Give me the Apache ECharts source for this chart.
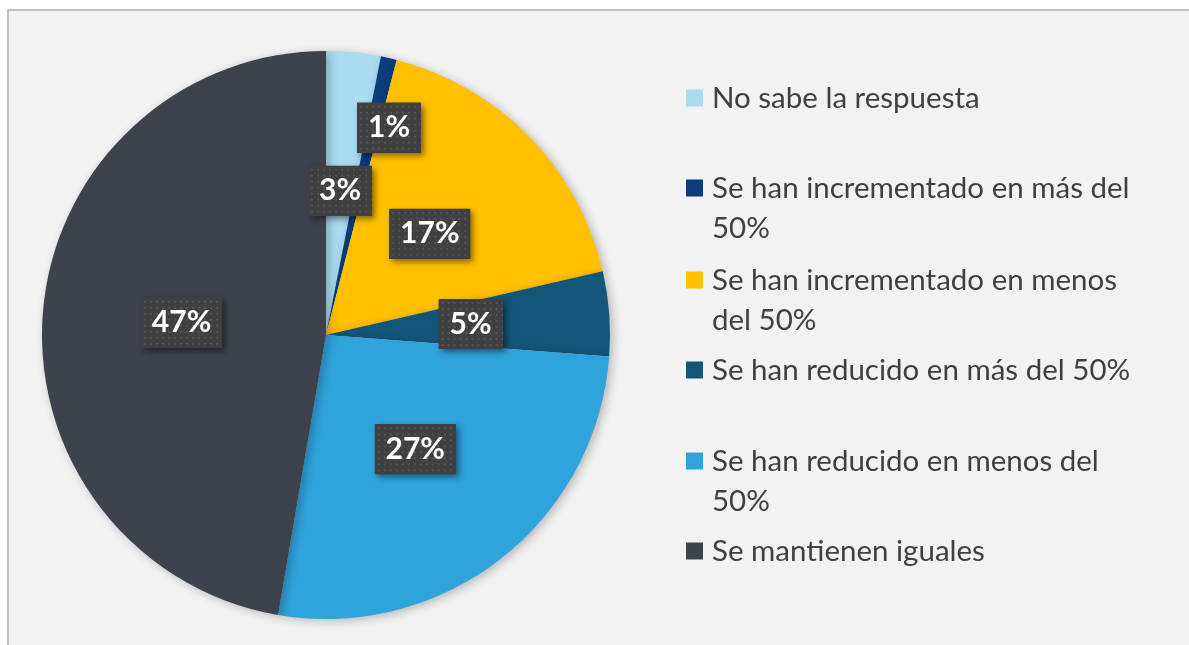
<!DOCTYPE html>
<html>
<head>
<meta charset="utf-8">
<script src="https://cdn.jsdelivr.net/npm/echarts@6/dist/echarts.min.js"></script>
<style>
html,body{margin:0;padding:0;background:#ffffff;}
#chart{width:1189px;height:645px;}
</style>
</head>
<body>
<div id="chart"></div>
<script>
const categories = [
  'No sabe la respuesta',
  'Se han incrementado en más del 50%',
  'Se han incrementado en menos del 50%',
  'Se han reducido en más del 50%',
  'Se han reducido en menos del 50%',
  'Se mantienen iguales'
];
const legendLines = [
  'No sabe la respuesta',
  'Se han incrementado en más del\n50%',
  'Se han incrementado en menos\ndel 50%',
  'Se han reducido en más del 50%',
  'Se han reducido en menos del\n50%',
  'Se mantienen iguales'
];
const values = [3.1, 0.9, 17.4, 4.8, 26.5, 47.3];
const colors = ['#a9dbf1', '#0b3d7a', '#ffc000', '#145679', '#2fa3dc', '#3d424d'];

const LABEL_FONT = 'bold 30px Lato';
const LABEL_PAD_X = 11;
const LABEL_H = 50;

function labelWidth(text) {
  const m = document.createElement('canvas').getContext('2d');
  m.font = LABEL_FONT;
  return Math.round(m.measureText(text).width + 2 * LABEL_PAD_X);
}

// dotted dark label background
function dottedBackground(w, h) {
  const c = document.createElement('canvas');
  c.width = w; c.height = h;
  const ctx = c.getContext('2d');
  ctx.fillStyle = '#404040';
  ctx.fillRect(0, 0, w, h);
  ctx.fillStyle = '#565656';
  for (let y = 3; y < h; y += 6) {
    for (let x = 3; x < w; x += 6) {
      ctx.fillRect(x, y, 2, 2);
    }
  }
  return c;
}

// vertical centre of the first text line of each legend entry
const legendCenters = [98, 188, 280, 370, 461, 551];
const legends = categories.map((name, i) => {
  const two = legendLines[i].indexOf('\n') >= 0;
  return {
    data: [name],
    orient: 'vertical',
    left: 686,
    top: two ? legendCenters[i] - 60 : legendCenters[i] - 20,
    padding: 0,
    icon: 'rect',
    itemWidth: 17,
    itemHeight: 17,
    selectedMode: false,
    formatter: () => (two ? '\n' : '') + legendLines[i],
    textStyle: {
      fontFamily: 'Lato',
      fontSize: 29.5,
      lineHeight: 40,
      color: '#404040',
      padding: [0, 0, 0, 4]
    }
  };
});

const chart = echarts.init(document.getElementById('chart'), null, {renderer: 'canvas'});
chart.setOption({
  animation: false,
  backgroundColor: '#ffffff',
  color: colors,
  graphic: [{
    type: 'rect',
    z: -10,
    shape: {x: 8, y: 10, width: 1300, height: 800},
    style: {fill: '#f2f2f2', stroke: '#bfbfbf', lineWidth: 2}
  }],
  legend: legends,
  series: [{
    type: 'pie',
    center: [326, 335],
    radius: 284,
    startAngle: 90,
    clockwise: true,
    avoidLabelOverlap: false,
    itemStyle: {
      shadowColor: 'rgba(0,0,0,0.25)',
      shadowBlur: 10,
      shadowOffsetX: 3,
      shadowOffsetY: 2
    },
    label: {
      show: true,
      position: 'inside',
      formatter: p => '{a|' + Math.round(p.value) + '%}',
      backgroundColor: '#404040',
      padding: 0,
      shadowColor: 'rgba(0,0,0,0.45)',
      shadowBlur: 6,
      shadowOffsetX: 3,
      shadowOffsetY: 3
    },
    labelLine: {show: false},
    labelLayout: function (params) {
      if (params.dataIndex === 1) {
        return {dx: 31, dy: -66};
      }
      return {};
    },
    data: categories.map((name, i) => {
      const txt = Math.round(values[i]) + '%';
      const w = labelWidth(txt);
      return {
        name: name,
        value: values[i],
        label: {
          padding: 0,
          rich: {
            a: {
              fontFamily: 'Lato',
              fontWeight: 'bold',
              fontSize: 30,
              lineHeight: LABEL_H,
              height: LABEL_H,
              width: w,
              align: 'center',
              color: '#ffffff',
              backgroundColor: {image: dottedBackground(w, LABEL_H)}
            }
          }
        }
      };
    })
  }]
});
</script>
</body>
</html>
